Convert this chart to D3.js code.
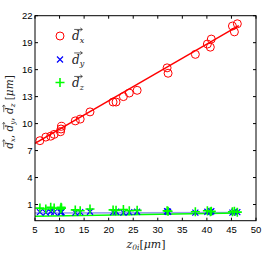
<!DOCTYPE html>
<html><head><meta charset="utf-8">
<script src="https://cdn.jsdelivr.net/npm/d3@7"></script>
<style>body{margin:0;background:#fff}svg{display:block}</style>
</head><body><svg id="c" width="269" height="260"></svg>
<script>
const z0i = [6.0,7.2,8.2,8.9,10.2,10.3,10.4,13.2,14.2,16.2,20.9,21.5,23.0,24.2,25.8,31.9,32.1,37.65,40.1,40.7,40.9,45.2,45.6,46.2];
const dx  = [8.1,8.5,8.6,8.8,9.1,9.4,9.7,10.3,10.5,11.3,12.4,12.4,13.0,13.4,13.7,16.2,15.6,17.7,18.85,18.5,19.4,20.85,20.2,21.1];
const dy  = [0.15,0.1,0.2,0.15,0.1,0.2,0.15,0.1,0.15,0.2,0.15,0.2,0.1,0.15,0.2,0.25,0.2,0.1,0.2,0.15,0.25,0.1,0.2,0.15];
const dz  = [0.6,0.5,0.7,0.6,0.5,0.7,0.6,0.4,0.3,0.5,0.4,0.35,0.45,0.3,0.35,0.3,0.25,0.2,0.3,0.2,0.25,0.2,0.25,0.15];
const fitX = [5, 46.5];
const fitDx = [7.8, 20.9];
const fitDy = [0.05, 0.1];
const fitDz = [-0.3, 0.05];
const xTicks = [5,10,15,20,25,30,35,40,45,50];
const yTicks = [1,4,7,10,13,16,19,22];

const svg = d3.select('#c');
const L=35,R=256,T=15.7,B=220.7;
const x = d3.scaleLinear().domain([5,50]).range([L,R]);
const y = d3.scaleLinear().domain([-0.8,22]).range([B,T]);
svg.append('clipPath').attr('id','cp').append('rect').attr('x',L).attr('y',T).attr('width',R-L).attr('height',B-T);
const g = svg.append('g').attr('clip-path','url(#cp)');
const line = d3.line().x((d,i)=>x(fitX[i])).y(d=>y(d));

g.append('path').attr('d',line(fitDy)).attr('fill','none').attr('stroke','#9a9af0').attr('stroke-width',1.6);
g.append('path').attr('d',line(fitDz)).attr('fill','none').attr('stroke','#00ff00').attr('stroke-width',1.6);
g.append('path').attr('d',line(fitDx)).attr('fill','none').attr('stroke','#ff0000').attr('stroke-width',1.4);

g.selectAll('.c').data(z0i).enter().append('circle').attr('cx',d=>x(d)).attr('cy',(d,i)=>y(dx[i])).attr('r',4).attr('fill','none').attr('stroke','#ff0000').attr('stroke-width',1);
function xmark(sel,cx,cy,s,col){
  sel.append('path').attr('transform',`translate(${cx},${cy})`).attr('d',`M${-s},${-s}L${s},${s}M${-s},${s}L${s},${-s}`).attr('stroke',col).attr('stroke-width',1.2).attr('fill','none');
}
function pmark(sel,cx,cy,s,col){
  sel.append('path').attr('transform',`translate(${cx},${cy})`).attr('d',`M${-s},0L${s},0M0,${-s}L0,${s}`).attr('stroke',col).attr('stroke-width',1.6).attr('fill','none');
}
z0i.forEach((d,i)=>xmark(g,x(d),y(dy[i]),3,'#0000ff'));
z0i.forEach((d,i)=>pmark(g,x(d),y(dz[i]),4.5,'#00ff00'));

const ax = svg.append('g').attr('font-family','"Liberation Sans", Arial, sans-serif').attr('font-size','9.5px');
ax.append('rect').attr('x',L).attr('y',T).attr('width',R-L).attr('height',B-T).attr('fill','none').attr('stroke','#000').attr('stroke-width',1);
xTicks.forEach(t=>{
  ax.append('line').attr('x1',x(t)).attr('x2',x(t)).attr('y1',B).attr('y2',B-3).attr('stroke','#000');
  ax.append('line').attr('x1',x(t)).attr('x2',x(t)).attr('y1',T).attr('y2',T+3).attr('stroke','#000');
  ax.append('text').attr('x',x(t)).attr('y',B+12).attr('text-anchor','middle').text(t);
});
yTicks.forEach(t=>{
  ax.append('line').attr('x1',L).attr('x2',L+3).attr('y1',y(t)).attr('y2',y(t)).attr('stroke','#000');
  ax.append('line').attr('x1',R).attr('x2',R-3).attr('y1',y(t)).attr('y2',y(t)).attr('stroke','#000');
  ax.append('text').attr('x',L-2.5).attr('y',y(t)).attr('dy','0.35em').attr('text-anchor','end').text(t);
});

// draws vector arrows over every 'd' char of a text element (in the text's own user space)
function arrows(parent, textNode, fs, col){
  const s = textNode.textContent;
  for(let i=0;i<s.length;i++){
    if(s[i]!=='d') continue;
    const p0 = textNode.getStartPositionOfChar(i), p1 = textNode.getEndPositionOfChar(i);
    const x0 = p0.x + fs*0.18, x1 = p1.x + fs*0.22, yy = p0.y - fs*0.88;
    parent.append('path').attr('d',`M${x0},${yy}L${x1},${yy}M${x1-fs*0.17},${yy-fs*0.13}L${x1},${yy}L${x1-fs*0.17},${yy+fs*0.13}`)
      .attr('fill','none').attr('stroke',col).attr('stroke-width',fs*0.06);
  }
}

const lg = svg.append('g').attr('font-family','"DejaVu Serif", "Liberation Serif", serif').attr('font-style','italic');
lg.append('circle').attr('cx',60).attr('cy',36).attr('r',4).attr('fill','none').attr('stroke','#ff0000');
xmark(lg,60,59.5,3,'#0000ff');
pmark(lg,60,82.5,4.5,'#00ff00');
[['x',40],['y',63.5],['z',87]].forEach(([s,yy])=>{
  const t = lg.append('text').attr('x',72).attr('y',yy).attr('font-size','12px').attr('fill','#222');
  t.append('tspan').text('d');
  t.append('tspan').attr('font-size','8px').attr('dy','2.5').text(s);
  arrows(lg, t.node(), 12, '#222');
});

const ylg = svg.append('g').attr('transform','translate(13,112) rotate(-90)');
const yl = ylg.append('text').attr('text-anchor','middle')
  .attr('font-family','"DejaVu Serif", "Liberation Serif", serif').attr('font-style','italic').attr('font-size','10.5px').attr('fill','#222');
[['x',', '],['y',', '],['z',' ']].forEach(([s,sep])=>{
  yl.append('tspan').text('d');
  yl.append('tspan').attr('font-size','7px').attr('dy','2').text(s);
  yl.append('tspan').attr('font-style','normal').attr('dy','-2').text(sep);
});
yl.append('tspan').attr('font-style','normal').text('[');
yl.append('tspan').text('μm');
yl.append('tspan').attr('font-style','normal').text(']');
arrows(ylg, yl.node(), 10.5, '#222');

const xl = svg.append('text').attr('x',146).attr('y',248).attr('text-anchor','middle')
  .attr('font-family','"DejaVu Serif", "Liberation Serif", serif').attr('font-style','italic').attr('font-size','11px').attr('fill','#222');
xl.append('tspan').text('z');
xl.append('tspan').attr('font-size','7.5px').attr('dy','2').text('0i');
xl.append('tspan').attr('dy','-2').attr('font-style','normal').text('[');
xl.append('tspan').text('μm');
xl.append('tspan').attr('font-style','normal').text(']');
</script></body></html>
